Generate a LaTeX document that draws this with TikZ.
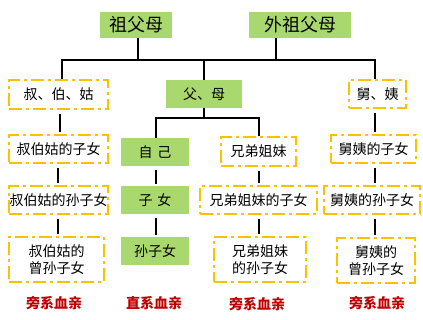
\documentclass[tikz,border=0pt]{standalone}
\usepackage{fontspec}
\setmainfont{Noto Sans CJK SC}
\definecolor{gfill}{HTML}{A9D86E}
\definecolor{oline}{HTML}{FFC000}
\definecolor{dred}{HTML}{C00000}
\begin{document}
\begin{tikzpicture}[x=1pt,y=-1pt,
  gbox/.style={fill=gfill,draw=none,inner sep=0pt,font=\fontsize{14}{16}\selectfont},
  obox/.style={draw=oline,line width=2pt,dash pattern=on 13pt off 4pt on 3pt off 4pt,inner sep=0pt,align=center,font=\fontsize{14}{17}\selectfont},
  conn/.style={line width=2.4pt,black},
  vconn/.style={conn,shorten <=4pt,shorten >=2pt},
  lbl/.style={text=dred,font=\fontsize{14}{16}\selectfont\bfseries}]
\useasboundingbox (0,0) rectangle (423,319);
% row 0
\node[gbox,minimum width=72pt,minimum height=26pt,font=\fontsize{18}{20}\selectfont] (gp) at (136,25) {祖父母};
\node[gbox,minimum width=102pt,minimum height=26pt,font=\fontsize{18}{20}\selectfont] (wgp) at (300,25) {外祖父母};
% row 1
\node[obox,minimum width=99pt,minimum height=29pt] (sbg) at (58.5,94.5) {叔、伯、姑};
\node[gbox,minimum width=76pt,minimum height=28pt] (fm) at (204,94) {父、母};
\node[obox,minimum width=57pt,minimum height=28pt] (jy) at (377.5,94) {舅、姨};
% row 2
\node[obox,minimum width=99pt,minimum height=28pt] (sbg1) at (58.5,149) {叔伯姑的子女};
\node[gbox,minimum width=68pt,minimum height=28pt] (zj) at (155,152) {自\,\,己};
\node[obox,minimum width=75pt,minimum height=29pt] (xd) at (258.5,151.5) {兄弟姐妹};
\node[obox,minimum width=85pt,minimum height=28pt] (jy1) at (373.5,149) {舅姨的子女};
% row 3
\node[obox,minimum width=99pt,minimum height=28pt] (sbg2) at (58.5,200) {叔伯姑的孙子女};
\node[gbox,minimum width=68pt,minimum height=28pt] (zn) at (155,200) {子\,\,女};
\node[obox,minimum width=117pt,minimum height=28pt] (xd2) at (258.5,200) {兄弟姐妹的子女};
\node[obox,minimum width=96pt,minimum height=28pt] (jy2) at (372,200) {舅姨的孙子女};
% row 4
\node[obox,minimum width=95pt,minimum height=45pt] (sbg3) at (56.5,259.5) {叔伯姑的\\曾孙子女};
\node[gbox,minimum width=68pt,minimum height=28pt] (sz) at (155,251) {孙子女};
\node[obox,minimum width=92pt,minimum height=45pt] (xd3) at (260,259.5) {兄弟姐妹\\的孙子女};
\node[obox,minimum width=78pt,minimum height=45pt] (jy3) at (376,260.5) {舅姨的\\曾孙子女};
% labels
\node[lbl] (l1) at (54,303) {旁系血亲};
\node[lbl] (l2) at (154,303) {直系血亲};
\node[lbl] (l3) at (257,304) {旁系血亲};
\node[lbl] (l4) at (377,303) {旁系血亲};
% connectors
\coordinate (bL) at (62,60);
\coordinate (bR) at (375,60);
\coordinate (j1) at (138,60);
\coordinate (j2) at (276,60);
\coordinate (j3) at (204,60);
\draw[conn,line cap=rect] (bL) -- (bR);
\draw[conn] (j1 |- gp.south) -- (j1);
\draw[conn] (j2 |- wgp.south) -- (j2);
\draw[conn] (bL) -- (bL |- sbg.north);
\draw[conn] (j3) -- (fm.north);
\draw[conn] (bR) -- (bR |- jy.north);
\coordinate (fb) at (204,118);
\coordinate (fL) at (156,118);
\coordinate (fR) at (259,118);
\draw[conn] (fm.south) -- (fb);
\draw[conn,line cap=rect] (fL) -- (fR);
\draw[conn] (fL) -- (fL |- zj.north);
\draw[conn] (fR) -- (fR |- xd.north);
\coordinate (cA) at (60,0);
\coordinate (cB) at (58,0);
\coordinate (cC) at (156,0);
\coordinate (cD) at (259,0);
\coordinate (cE) at (375,0);
\draw[vconn] (cA |- sbg.south) -- (cA |- sbg1.north);
\draw[vconn] (cB |- sbg1.south) -- (cB |- sbg2.north);
\draw[vconn] (cB |- sbg2.south) -- (cB |- sbg3.north);
\draw[vconn] (cC |- zj.south) -- (cC |- zn.north);
\draw[vconn] (cC |- zn.south) -- (cC |- sz.north);
\draw[vconn] (cD |- xd.south) -- (cD |- xd2.north);
\draw[vconn] (cD |- xd2.south) -- (cD |- xd3.north);
\draw[vconn] (cE |- jy.south) -- (cE |- jy1.north);
\draw[vconn] (cE |- jy1.south) -- (cE |- jy2.north);
\draw[vconn] (cE |- jy2.south) -- (cE |- jy3.north);
\end{tikzpicture}
\end{document}
